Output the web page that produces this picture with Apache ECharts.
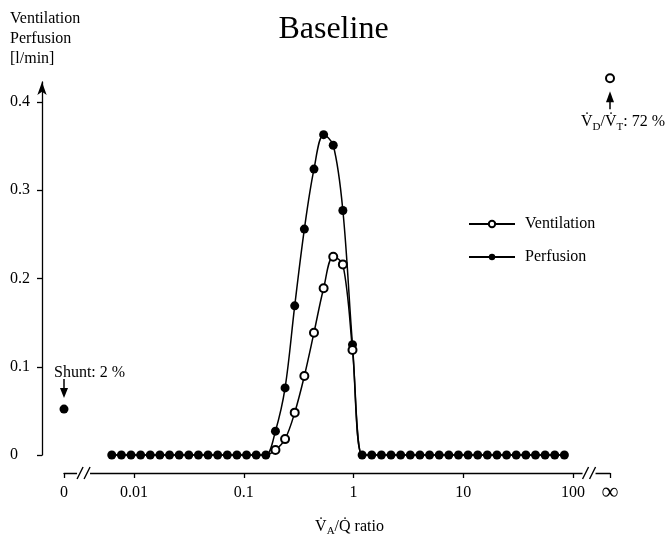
<!DOCTYPE html>
<html><head><meta charset="utf-8">
<script src="https://cdn.jsdelivr.net/npm/echarts@6/dist/echarts.min.js"></script>
<style>html,body{margin:0;padding:0;background:#fff}#c{width:667px;height:542px}</style>
</head><body><div id="c"></div>
<script>
// ---- data ----
const vaqRatios = [0.00627,0.00767,0.00939,0.01149,0.01406,0.01720,0.02106,0.02577,0.03155,0.03861,
  0.04725,0.05783,0.07079,0.08664,0.1060,0.1298,0.1589,0.1944,0.2379,0.2912,
  0.3565,0.4362,0.5340,0.6535,0.7998,0.9788,1.198,1.466,1.795,2.197,
  2.689,3.291,4.027,4.929,6.033,7.384,9.036,11.06,13.54,16.57,
  20.28,24.82,30.38,37.18,45.50,55.69,68.16,83.42];
const perfusion = [0,0,0,0,0,0,0,0,0,0, 0,0,0,0,0,0,0,0.027,0.076,0.169,
  0.256,0.324,0.363,0.351,0.277,0.125,0,0,0,0, 0,0,0,0,0,0,0,0,0,0, 0,0,0,0,0,0,0,0];
const ventilation = [0,0,0,0,0,0,0,0,0,0, 0,0,0,0,0,0,0,0.0057,0.018,0.048,
  0.0895,0.1386,0.189,0.2247,0.216,0.119,0,0,0,0, 0,0,0,0,0,0,0,0,0,0, 0,0,0,0,0,0,0,0];
const shuntValue = 0.052;
const deadSpaceValue = 0.427;
const xTickRatios = [0, 0.01, 0.1, 1, 10, 100, Infinity];
const xTickLabels = ['0', '0.01', '0.1', '1', '10', '100', '\u221E'];
const yTickValues = [0, 0.1, 0.2, 0.3, 0.4];
const yTickLabels = ['0', '0.1', '0.2', '0.3', '0.4'];

// ---- axis layout (log10 units) ----
const ZERO_POS = -2.638, INF_POS = 2.337, YAXIS_POS = -2.838;
const BREAKS = [-2.46, 2.146];
const Y_MIN = -0.0204, Y_MAX = 0.4476, YA_MAX = 0.4227;
const FONT = 'Liberation Serif, DejaVu Serif, serif';

const toPos = r => r === 0 ? ZERO_POS : (r === Infinity ? INF_POS : Math.log10(r));
const xTickPos = xTickRatios.map(toPos);
const xLabel = v => {
  for (let i = 0; i < xTickPos.length; i++) if (Math.abs(xTickPos[i] - v) < 1e-6) {
    return xTickRatios[i] === Infinity ? '{inf|' + xTickLabels[i] + '}' : xTickLabels[i];
  }
  return '';
};
const yLabel = v => { for (let i = 0; i < yTickValues.length; i++) if (Math.abs(yTickValues[i] - v) < 1e-6) return yTickLabels[i]; return ''; };

const perfData = perfusion.map((v, i) => [Math.log10(vaqRatios[i]), v]);
const ventData = ventilation.map((v, i) => v === 0 ? { value: [Math.log10(vaqRatios[i]), v], symbol: 'none' } : [Math.log10(vaqRatios[i]), v]);

const chart = echarts.init(document.getElementById('c'), null, { renderer: 'canvas' });
const black = '#000';
chart.setOption({
  animation: false,
  backgroundColor: '#fff',
  title: { text: 'Baseline', left: 'center', top: 9, textStyle: { fontFamily: FONT, fontSize: 32, fontWeight: 'normal', color: black } },
  legend: {
    data: ['Ventilation', 'Perfusion'], orient: 'vertical', left: 463, top: 211,
    itemWidth: 46, itemHeight: 8, itemGap: 17,
    textStyle: { fontFamily: FONT, fontSize: 16, color: black, padding: [0, 0, 0, 5] }
  },
  grid: [
    { left: 64, right: 57, top: 60, bottom: 69 },
    { left: 42, right: 57, top: 82, bottom: 87 }
  ],
  xAxis: [
    { gridIndex: 0, type: 'value', min: ZERO_POS, max: INF_POS,
      axisLine: { onZero: false, lineStyle: { color: black, width: 1.3 } },
      axisTick: { customValues: xTickPos, length: 5, lineStyle: { color: black, width: 1.3 } },
      axisLabel: { customValues: xTickPos, formatter: xLabel, margin: 12, color: black, fontSize: 16, fontFamily: FONT,
        rich: { inf: { fontSize: 24, fontFamily: FONT, color: black, lineHeight: 16 } } },
      splitLine: { show: false } },
    { gridIndex: 1, type: 'value', min: YAXIS_POS, max: INF_POS, show: false, axisLine: { onZero: false } }
  ],
  yAxis: [
    { gridIndex: 0, type: 'value', min: Y_MIN, max: Y_MAX, show: false, axisLine: { onZero: false }, splitLine: { show: false } },
    { gridIndex: 1, type: 'value', min: 0, max: YA_MAX,
      axisLine: { show: true, onZero: false, symbol: ['none', 'arrow'], symbolSize: [7, 13], lineStyle: { color: black, width: 1.3 } },
      axisTick: { show: true, customValues: yTickValues, length: 5, lineStyle: { color: black, width: 1.3 } },
      axisLabel: { customValues: yTickValues, formatter: yLabel, align: 'left', margin: 32, color: black, fontSize: 16, fontFamily: FONT },
      splitLine: { show: false } }
  ],
  series: [
    { name: 'Perfusion', type: 'line', xAxisIndex: 0, yAxisIndex: 0, data: perfData, smooth: 0.35,
      symbol: 'circle', symbolSize: 9, showAllSymbol: true, z: 2, clip: false,
      itemStyle: { color: black }, lineStyle: { color: black, width: 1.5 } },
    { name: 'Ventilation', type: 'line', xAxisIndex: 0, yAxisIndex: 0, data: ventData, smooth: 0.35,
      symbol: 'emptyCircle', symbolSize: 8, showAllSymbol: true, z: 3, clip: false,
      itemStyle: { color: black, borderWidth: 1.3 }, lineStyle: { color: black, width: 1.5 } },
    { name: 'Shunt', type: 'scatter', xAxisIndex: 0, yAxisIndex: 0, data: [[ZERO_POS, shuntValue]],
      symbol: 'circle', symbolSize: 9, itemStyle: { color: black, opacity: 1 }, clip: false },
    { name: 'Dead space', type: 'scatter', xAxisIndex: 0, yAxisIndex: 0, data: [[INF_POS, deadSpaceValue]],
      symbol: 'emptyCircle', symbolSize: 8, itemStyle: { color: black, borderWidth: 1.3, opacity: 1 }, clip: false }
  ]
});

// ---- annotations positioned from the axis scales ----
const px = (x, y) => chart.convertToPixel({ gridIndex: 0 }, [x, y]);
const sh = px(ZERO_POS, shuntValue);
const ds = px(INF_POS, deadSpaceValue);
const g = [];
const txt = (x, y, text, extra) => ({ type: 'text', x: x, y: y, style: Object.assign({ text: text, fill: black, font: '16px ' + FONT }, extra || {}) });
// y-axis name
g.push({ type: 'text', left: 10, top: 9, style: { text: 'Ventilation\nPerfusion\n[l/min]', fill: black, font: '16px ' + FONT, lineHeight: 20 } });
// shunt
g.push(txt(sh[0] - 10, sh[1] - 36, 'Shunt: 2 %', { verticalAlign: 'middle' }));
g.push({ type: 'line', shape: { x1: sh[0], y1: sh[1] - 30, x2: sh[0], y2: sh[1] - 16 }, style: { stroke: black, lineWidth: 1.5 } });
g.push({ type: 'polygon', shape: { points: [[sh[0] - 4, sh[1] - 21], [sh[0] + 4, sh[1] - 21], [sh[0], sh[1] - 11]] }, style: { fill: black } });
// dead space
g.push({ type: 'line', shape: { x1: ds[0], y1: ds[1] + 31, x2: ds[0], y2: ds[1] + 17 }, style: { stroke: black, lineWidth: 1.5 } });
g.push({ type: 'polygon', shape: { points: [[ds[0] - 4, ds[1] + 24], [ds[0] + 4, ds[1] + 24], [ds[0], ds[1] + 13]] }, style: { fill: black } });
const rich = {
  v: { fontFamily: FONT, fontSize: 16, lineHeight: 20, fill: black },
  s: { fontFamily: FONT, fontSize: 11, lineHeight: 12, verticalAlign: 'bottom', fill: black }
};
g.push({ type: 'text', x: ds[0] - 29, y: ds[1] + 34, style: { text: '{v|V\u0307}{s|D}{v|/V\u0307}{s|T}{v|: 72 %}', rich: rich, fill: black } });
// x-axis name
const xn = px(0, Y_MIN);
g.push({ type: 'text', x: xn[0] - 4, y: xn[1] + 44, style: { text: '{v|V\u0307}{s|A}{v|/Q\u0307 ratio}', rich: rich, fill: black, align: 'center' } });
// axis breaks
BREAKS.forEach(b => {
  const p = px(b, Y_MIN);
  g.push({ type: 'rect', shape: { x: p[0] - 6.5, y: p[1] - 2, width: 13, height: 4 }, style: { fill: '#fff' }, z: 100 });
  g.push({ type: 'line', shape: { x1: p[0] - 6.5, y1: p[1] + 6, x2: p[0] - 0.5, y2: p[1] - 6 }, style: { stroke: black, lineWidth: 1.4 }, z: 101 });
  g.push({ type: 'line', shape: { x1: p[0] + 0.5, y1: p[1] + 6, x2: p[0] + 6.5, y2: p[1] - 6 }, style: { stroke: black, lineWidth: 1.4 }, z: 101 });
});
chart.setOption({ graphic: g });
</script></body></html>
